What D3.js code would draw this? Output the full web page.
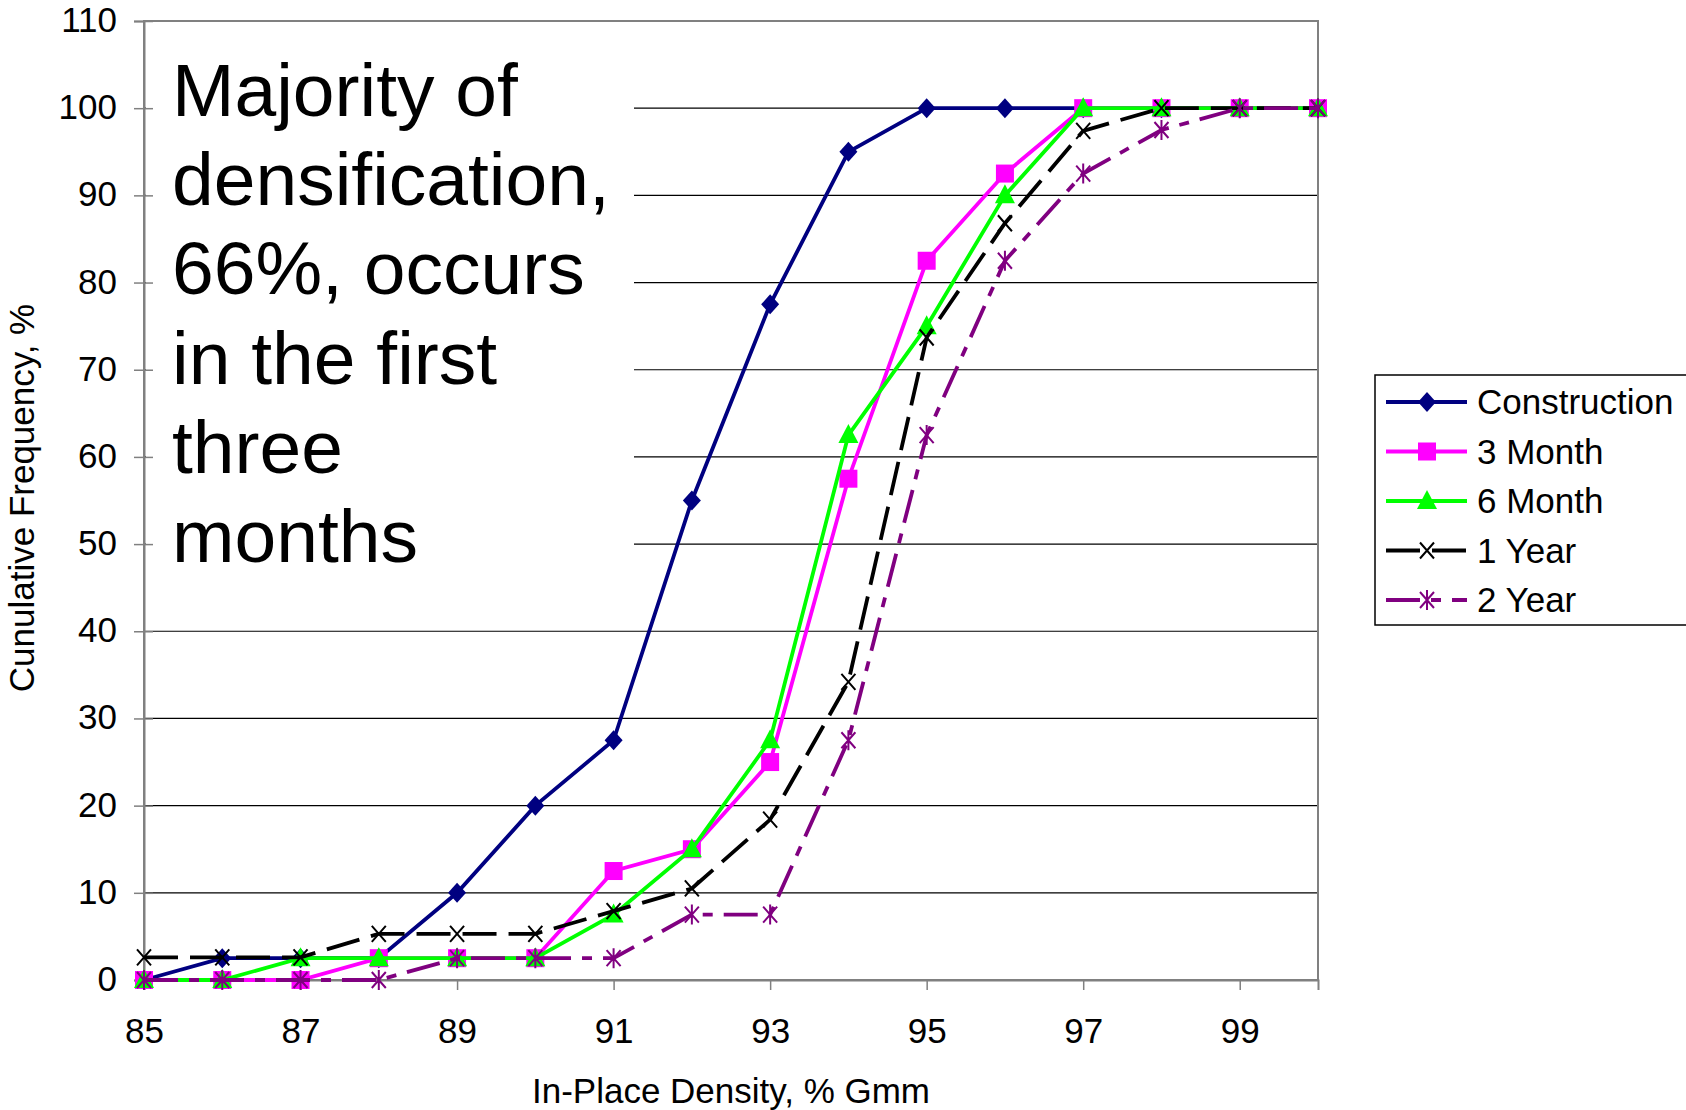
<!DOCTYPE html>
<html>
<head>
<meta charset="utf-8">
<script src="https://cdn.jsdelivr.net/npm/d3@7"></script>
<style>
  body { margin: 0; background: #fff; }
  text { font-family: "Liberation Sans", Arial, sans-serif; fill: #000; }
</style>
</head>
<body>
<div id="chart"></div>
<script>
// data
var density = [85, 86, 87, 88, 89, 90, 91, 92, 93, 94, 95, 96, 97, 98, 99, 100];
var construction = [0, 2.5, 2.5, 2.5, 10, 20, 27.5, 55, 77.5, 95, 100, 100, 100, 100, 100, 100];
var month3 = [0, 0, 0, 2.5, 2.5, 2.5, 12.5, 15, 25, 57.5, 82.5, 92.5, 100, 100, 100, 100];
var month6 = [0, 0, 2.5, 2.5, 2.5, 2.5, 7.5, 15, 27.5, 62.5, 75, 90, 100, 100, 100, 100];
var year1 = [2.6, 2.6, 2.6, 5.3, 5.3, 5.3, 7.9, 10.5, 18.4, 34.2, 73.7, 86.8, 97.4, 100, 100, 100];
var year2 = [0, 0, 0, 0, 2.5, 2.5, 2.5, 7.5, 7.5, 27.5, 62.5, 82.5, 92.5, 97.5, 100, 100];
var seriesNames = ["Construction", "3 Month", "6 Month", "1 Year", "2 Year"];
var xTicks = [85, 87, 89, 91, 93, 95, 97, 99];
var yTicks = [0, 10, 20, 30, 40, 50, 60, 70, 80, 90, 100, 110];
var noteLines = ["Majority of", "densification,", "66%, occurs", "in the first", "three", "months"];

var series = [
  {name: seriesNames[0], values: construction, color: "#000080", dash: null, marker: "diamond"},
  {name: seriesNames[1], values: month3, color: "#FF00FF", dash: null, marker: "square"},
  {name: seriesNames[2], values: month6, color: "#00FF00", dash: null, marker: "triangle"},
  {name: seriesNames[3], values: year1, color: "#000000", dash: "34,12", marker: "x"},
  {name: seriesNames[4], values: year2, color: "#800080", dash: "34,11,10,11", marker: "star"}
];

// area space
var width = 1686;
var height = 1110;
var plot = {left: 144, right: 1318, top: 21, bottom: 980};

var svg = d3.select("#chart")
  .append("svg")
  .attr("width", width)
  .attr("height", height);

var x = d3.scaleLinear()
  .domain([85, 100])
  .range([plot.left, plot.right]);

var y = d3.scaleLinear()
  .domain([0, 110])
  .range([plot.bottom, plot.top]);

// gridlines
svg.append("g")
  .selectAll("line")
  .data(yTicks.filter(function(d){ return d > 0 && d < 110; }))
  .enter()
  .append("line")
  .attr("x1", plot.left)
  .attr("x2", plot.right)
  .attr("y1", function(d){ return y(d); })
  .attr("y2", function(d){ return y(d); })
  .attr("stroke", "#000")
  .attr("stroke-width", 1.2);

// note box (white background hides gridlines)
svg.append("rect")
  .attr("x", plot.left + 2)
  .attr("y", 32)
  .attr("width", 634 - plot.left - 2)
  .attr("height", 545)
  .attr("fill", "#fff");

svg.append("g")
  .selectAll("text")
  .data(noteLines)
  .enter()
  .append("text")
  .attr("x", 172)
  .attr("y", function(d, i){ return 116 + i * 89.2; })
  .style("font-size", "75px")
  .text(function(d){ return d; });

// plot border
svg.append("rect")
  .attr("x", plot.left)
  .attr("y", plot.top)
  .attr("width", plot.right - plot.left)
  .attr("height", plot.bottom - plot.top)
  .attr("fill", "none")
  .attr("stroke", "#808080")
  .attr("stroke-width", 2);

// y axis
var yAxis = svg.append("g")
  .attr("transform", "translate(" + plot.left + ",0)")
  .call(d3.axisLeft(y).tickValues(yTicks).tickSize(10).tickFormat(d3.format("d")));
yAxis.select(".domain").attr("stroke", "#808080").attr("stroke-width", 2);
yAxis.selectAll(".tick line").attr("x1", 9).attr("x2", -10).attr("stroke", "#808080").attr("stroke-width", 1.5);
yAxis.selectAll(".tick text")
  .attr("x", -27)
  .attr("dy", "0.3em")
  .style("font-size", "35px")
  .style("font-family", "'Liberation Sans', Arial, sans-serif")
  .attr("fill", "#000");

// x axis
var xAxis = svg.append("g")
  .attr("transform", "translate(0," + plot.bottom + ")")
  .call(d3.axisBottom(x).tickValues(xTicks).tickSize(10).tickFormat(d3.format("d")));
xAxis.select(".domain").attr("stroke", "#808080").attr("stroke-width", 2);
xAxis.selectAll(".tick line").attr("stroke", "#808080").attr("stroke-width", 1.5);
xAxis.selectAll(".tick text")
  .attr("y", 38)
  .attr("dy", "0.71em")
  .style("font-size", "35px")
  .style("font-family", "'Liberation Sans', Arial, sans-serif")
  .attr("fill", "#000");

// axis titles
svg.append("text")
  .attr("x", 731)
  .attr("y", 1103)
  .attr("text-anchor", "middle")
  .style("font-size", "35px")
  .text("In-Place Density, % Gmm");

svg.append("text")
  .attr("transform", "translate(34,498) rotate(-90)")
  .attr("text-anchor", "middle")
  .style("font-size", "35px")
  .text("Cunulative Frequency, %");

// markers
function drawMarker(g, type, color){
  if (type === "diamond") {
    g.append("path").attr("d", "M0,-10L9,0L0,10L-9,0Z").attr("fill", color);
  } else if (type === "square") {
    g.append("rect").attr("x", -9).attr("y", -9).attr("width", 18).attr("height", 18).attr("fill", color);
  } else if (type === "triangle") {
    g.append("path").attr("d", "M0,-11L10,8L-10,8Z").attr("fill", color);
  } else if (type === "x") {
    g.append("path").attr("d", "M-7,-8L7,8M-7,8L7,-8").attr("stroke", color).attr("stroke-width", 2).attr("fill", "none");
  } else {
    g.append("path").attr("d", "M-7,-8L7,8M-7,8L7,-8M0,-10L0,10").attr("stroke", color).attr("stroke-width", 2).attr("fill", "none");
  }
}

var line = d3.line()
  .x(function(d, i){ return x(density[i]); })
  .y(function(d){ return y(d); });

series.forEach(function(s){
  var g = svg.append("g");
  g.append("path")
    .attr("d", line(s.values))
    .attr("fill", "none")
    .attr("stroke", s.color)
    .attr("stroke-width", 3.8)
    .attr("stroke-dasharray", s.dash);
  s.values.forEach(function(v, i){
    var m = g.append("g").attr("transform", "translate(" + x(density[i]) + "," + y(v) + ")");
    drawMarker(m, s.marker, s.color);
  });
});

// legend
var legend = svg.append("g").attr("transform", "translate(1375,375)");
legend.append("rect")
  .attr("x", 0)
  .attr("y", 0)
  .attr("width", 330)
  .attr("height", 250)
  .attr("fill", "#fff")
  .attr("stroke", "#000")
  .attr("stroke-width", 1.5);

series.forEach(function(s, i){
  var row = legend.append("g").attr("transform", "translate(0," + (27 + i * 49.5) + ")");
  row.append("line")
    .attr("x1", 11)
    .attr("x2", 92)
    .attr("y1", 0)
    .attr("y2", 0)
    .attr("stroke", s.color)
    .attr("stroke-width", 3.8)
    .attr("stroke-dasharray", s.dash);
  var m = row.append("g").attr("transform", "translate(52,0)");
  drawMarker(m, s.marker, s.color);
  row.append("text")
    .attr("x", 102)
    .attr("y", 0)
    .attr("dy", "0.35em")
    .style("font-size", "35px")
    .text(s.name);
});
</script>
</body>
</html>
